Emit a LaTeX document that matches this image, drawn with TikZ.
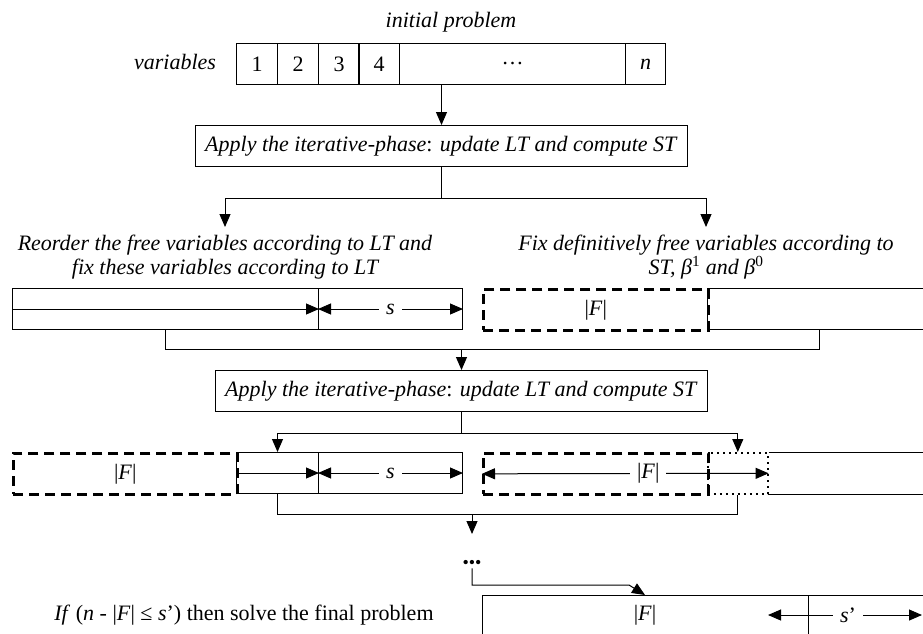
\documentclass[tikz,border=0pt]{standalone}
\usepackage{fontspec}
\setmainfont{Liberation Serif}
\usetikzlibrary{arrows.meta}

\tikzset{
  every node/.style={font=\fontsize{22}{23.5}\selectfont},
  note/.style={align=center, anchor=north, inner xsep=0pt, inner ysep=8pt,
    font=\itshape\fontsize{22}{23.5}\selectfont},
  cell/.style={draw, line width=1pt, anchor=north west, inner sep=0pt, minimum height=41pt},
  fixed/.style={draw, line width=2.6pt, dash pattern=on 10pt off 6pt,
    anchor=north west, inner sep=0pt, minimum height=41pt},
  dotbox/.style={draw, line width=1.6pt, dash pattern=on 2pt off 4pt,
    anchor=north west, inner sep=0pt, minimum height=41pt},
  link/.style={line width=1pt},
  tip/.style={line width=1pt, arrows={-Triangle[width=11pt, length=13pt]}},
  tips/.style={line width=1pt,
    arrows={Triangle[width=11pt, length=13pt]-Triangle[width=11pt, length=13pt]}},
  lbl/.style={fill=white, inner xsep=7pt, inner ysep=1pt},
}

\begin{document}
\begin{tikzpicture}[x=1pt, y=-1pt]
\useasboundingbox (0,0) rectangle (923,633);
\clip (0,0) rectangle (923,633);

% initial problem
\node (title) at (451,22) {\itshape initial problem};
\node (vars) at (175,62) {\itshape variables};
\foreach \i/\x in {1/236, 2/277, 3/318, 4/358}
  \node[cell, minimum width=41pt] (c\i) at (\x,43) {\i};
\node[cell, minimum width=226pt] (cdots) at (399,43) {\dots};
\node[cell, minimum width=40pt] (cn) at (625,43) {\itshape n};

\node[cell, minimum width=492pt] (apply1) at (195,125)
    {\textit{Apply the iterative-phase}: \textit{update LT and compute ST}};
\draw[tip] (apply1.north |- cdots.south) -- (apply1.north);

% first split
\node[note] (txtL) at (225,227)
    {Reorder the free variables according to LT and\\fix these variables according to LT};
\node[note] (txtR) at (706,227)
    {Fix definitively free variables according to\\ST, β\textsuperscript{\upshape 1} and β\textsuperscript{\upshape 0}};
\draw[link] (apply1.south) -- ++(0,31) coordinate (fork1);
\draw[tip] (fork1) -| (txtL.north);
\draw[tip] (fork1) -| (txtR.north);

\node[cell, minimum width=306pt] (lfix) at (12,288) {};
\node[cell, minimum width=144pt] (ls) at (318,288) {};
\draw[tip] (lfix.west) -- (lfix.east);
\draw[tips] (ls.west) -- node[lbl] {\itshape s} (ls.east);

\node[cell, minimum width=224pt] (rfree) at (707,288) {};
\node[fixed, minimum width=225pt] (rF) at (482,288) {|\textit{F}|};

% second iteration
\node[cell, minimum width=492pt] (apply2) at (215,370)
    {\textit{Apply the iterative-phase}: \textit{update LT and compute ST}};
\draw[link] (lfix.south) -- ++(0,19) coordinate (join1) -| (rfree.south);
\draw[tip] (apply2.north |- join1) -- (apply2.north);

\node[fixed, minimum width=224pt] (lF) at (12,452) {|\textit{F}|};
\node[cell, minimum width=82pt] (lmid) at (236,452) {};
\node[cell, minimum width=144pt] (ls2) at (318,452) {};
\draw[tip] (lmid.west) -- (lmid.east);
\draw[tips] (ls2.west) -- node[lbl] {\itshape s} (ls2.east);

\node[fixed, minimum width=225pt] (rF2) at (482,452) {};
\node[dotbox, minimum width=60pt] (rdot) at (707,452) {};
\draw[link] (rdot.north east) -- ++(170,0) (rdot.south east) -- ++(170,0);
\draw[tips] (rF2.west) -- node[lbl, pos=0.58] {|\textit{F}|} (rdot.east);

\draw[link] (apply2.south) -- ++(0,21) coordinate (fork2);
\draw[tip] (fork2) -| (lmid.north);
\draw[tip] (fork2) -| (rdot.north);

% last step
\node[inner sep=0pt, font=\fontsize{18}{18}\selectfont] (dots) at (472,564) {•••};
\draw[link] (lmid.south) -- ++(0,20) coordinate (join2) -| (rdot.south);
\draw[tip] (dots.north |- join2) -- ++(0,20);

\coordinate (fin) at (482,595);
\coordinate (finmid) at (808,595);
\coordinate (finin) at (645,595);
\draw[link] ([yshift=-50pt]fin) -- (fin) -- ++(460,0);
\draw[link] (finmid) -- ++(0,50);
\draw[tip] (dots.south) |- ([xshift=-16pt, yshift=10pt]finin) -- (finin);

\node (Ffin) at (645,615) {|\textit{F}|};
\coordinate (sl) at (768,615);
\coordinate (sr) at (922,615);
\draw[tips] (sl) -- node[lbl, pos=0.52] {\textit{s}’} (sr);

\node (cond) at (244,615)
    {\textit{If} (\textit{n} - |\textit{F}| ≤ \textit{s}’) then solve the final problem};
\end{tikzpicture}
\end{document}
